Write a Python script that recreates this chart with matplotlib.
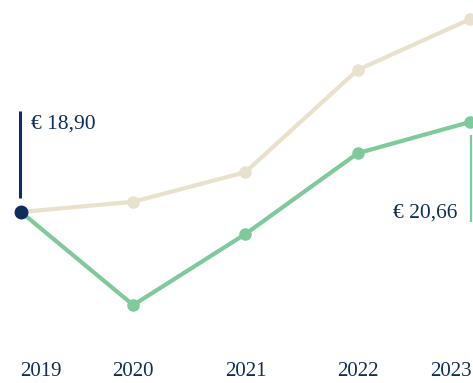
import matplotlib
matplotlib.use("Agg")
import matplotlib.pyplot as plt
import matplotlib.transforms as mtransforms

years = [2019, 2020, 2021, 2022, 2023]
tick_labels = ["2019", "2020", "2021", "2022", "2023"]
benchmark = [18.90, 19.10, 19.68, 21.68, 22.67]
price = [18.90, 17.08, 18.47, 20.05, 20.66]
start_label = "€ 18,90"
end_label = "€ 20,66"

BEIGE = "#E8E1CB"
GREEN = "#7FCA9B"
NAVY = "#0E2D5C"

plt.rcParams["font.family"] = ["Liberation Serif", "DejaVu Serif"]

fig = plt.figure(figsize=(4.73, 3.83), dpi=100)
ax = fig.add_axes([0, 0, 1, 1])
ax.set_xlim(2018.813, 2023.027)
ax.set_ylim(15.556, 23.046)
ax.axis("off")

ax.plot(years, benchmark, color=BEIGE, lw=3.0, marker="o", ms=8,
        solid_capstyle="round", zorder=2)
ax.plot(years, price, color=GREEN, lw=3.0, marker="o", ms=8,
        solid_capstyle="round", zorder=3)
ax.plot([years[0]], [price[0]], marker="o", ms=9, color=NAVY, zorder=5)

# start value callout
ax.plot([years[0] - 0.008, years[0] - 0.008], [price[0] + 0.27, price[0] + 1.98],
        color=NAVY, lw=2.2, solid_capstyle="butt", zorder=4)
ax.text(years[0] + 0.085, price[0] + 1.72, start_label, color=NAVY,
        fontsize=15.5, ha="left", va="center")

# end value callout
ax.plot([years[-1] + 0.013, years[-1] + 0.013], [price[-1] - 0.25, price[-1] - 1.95],
        color=GREEN, lw=1.6, solid_capstyle="butt", zorder=4)
ax.text(years[-1] - 0.115, price[-1] - 1.78, end_label, color=NAVY,
        fontsize=15.5, ha="right", va="center")

# year labels: outer ones aligned to the plot edges
trans = mtransforms.blended_transform_factory(ax.transData, ax.transAxes)
n = len(years)
for i, (yr, lab) in enumerate(zip(years, tick_labels)):
    if i == 0:
        x, ha = yr - 0.01, "left"
    elif i == n - 1:
        x, ha = 2023.02, "right"
    else:
        x, ha = yr, "center"
    ax.text(x, 0.03, lab, transform=trans, color=NAVY, fontsize=15,
            ha=ha, va="center")

fig.savefig("out.png", dpi=100, facecolor="white")
